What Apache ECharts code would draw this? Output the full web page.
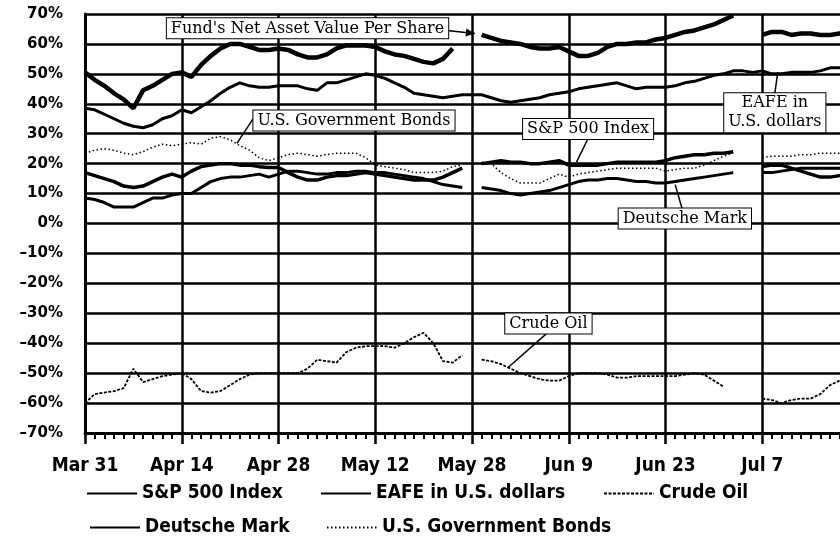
<!DOCTYPE html>
<html><head><meta charset="utf-8">
<script src="https://cdn.jsdelivr.net/npm/echarts@6/dist/echarts.min.js"></script>
<style>html,body{margin:0;padding:0;background:#fff}#c{width:840px;height:559px}</style>
</head><body><div id="c"></div>
<script>
// x: business-day index from Mar 31; ticks every 10 days
const tickLabels = ['Mar 31','Apr 14','Apr 28','May 12','May 28','Jun 9','Jun 23','Jul 7'];

const fundNAV = [50.5,48,46,43.5,41.5,38.5,44.5,46,48,50, 50.5,49,53,56,58.5,60,60,59,58,58,
  58.5,58,56.5,55.5,55.5,56.5,58.5,59.5,59.5,59.5, 59,57.5,56.5,56,55,54,53.5,55,58.5,null,
  null,63,62,61,60.5,60,59,58.5,58.5,59, 57.5,56,56,57,59,60,60,60.5,60.5,61.5,
  62,63,64,64.5,65.5,66.5,68,69.5,null,null, 63,64,64,63,63.5,63.5,63,63,63.5,64];

const sp500 = [17,16,15,14,12.5,12,12.5,14,15.5,16.5, 15.5,17.5,19,19.5,20,20,19.5,19.5,19,18.7,
  18.7,17,15.5,14.5,14.5,15.5,16,16,16.5,17, 16.5,16,15.5,15,14.5,14.5,14.5,15.5,17,18.5,
  null,20,20.5,21,20.5,20.5,20,20,20.5,21, 19.5,19.5,19.5,19.5,20,20.5,20.5,20.5,20.5,20.5,
  21,22,22.5,23,23,23.5,23.5,24,null,null, 19,19.5,19.5,18.5,17.5,16.5,15.5,15.5,16,16.5];

const eafe = [38.5,38,36.5,35,33.5,32.5,32,33,35,36, 38,37,39,41,43.5,45.5,47,46,45.5,45.5,
  46,46,46,45,44.5,47,47,48,49,50, 49.5,48.5,47,45.5,43.5,43,42.5,42,42.5,43,
  43,43,42,41,40.5,41,41.5,42,43,43.5, 44,45,45.5,46,46.5,47,46,45,45.5,45.5,
  45.5,46,47,47.5,48.5,49.5,50,51,51,50.5, 51,50,50,50.5,50.5,50.5,51,52,52,52.5];

const crudeOil = [-60,-57,-56.5,-56,-55,-48.5,-53,-52,-51,-50.5, -50,-52,-56,-56.5,-56,-54,-52,-50.5,-50,-50,
  -50,-50,-50,-48.5,-45.5,-46,-46.5,-43,-41.5,-41, -41,-41,-41.5,-40,-38,-36.5,-40,-46,-46.5,-44,
  null,-45.5,-46,-47,-48.5,-50,-51,-52,-52.5,-52.5, -51,-50,-50,-50,-50.5,-51.5,-51.5,-51,-51,-51,
  -51,-51,-50.5,-50,-50.5,-52.5,-54.5,null,null,null, -58.5,-59,-60,-59,-58.5,-58.5,-57,-54,-52.5,-53.5];

const deutscheMark = [8.5,8,7,5.5,5.5,5.5,7,8.5,8.5,9.5, 10,10,12,14,15,15.5,15.5,16,16.5,15.5,
  16.5,17.5,17.5,17,16.5,16.5,17,17,17.5,17.5, 17,17,16.5,16,15.5,15,14,13,12.5,12,
  null,12,11.5,11,10,9.5,10,10.5,11,12, 13,14,14.5,14.5,15,15,14.5,14,14,13.5,
  13.5,14,14.5,15,15.5,16,16.5,17,null,null, 17,17,17.5,18,18.5,18.5,18.5,18.5,18.5,18.5];

const govBonds = [23.5,24.5,25,24.5,23.5,23,24,25.5,26.5,26, 26.5,27,26.5,28.5,29,28,26,24.5,22,21,
  22,23,23.5,23,22.5,23,23.5,23.5,23.5,22, 19.5,19,18.5,18,17,17,17,17.5,19,19.5,
  null,20.5,20,17,15,13.5,13.5,13.5,15,16.5, 15.5,16.5,17,17.5,18,18.5,18.5,18.5,18.5,18.5,
  17.5,18,18.5,18.5,19.5,21,22.5,23.5,null,null, 22,22.5,22.5,22.5,23,23,23.5,23.5,23.5,23.5];

const pairs = arr => arr.map((v, i) => [i, v]);

const legendFont = {fontFamily:"'Liberation Sans Narrow','DejaVu Sans Condensed',sans-serif", fontWeight:'bold', fontSize:19, color:'#000'};
const annoFont = "16px 'DejaVu Serif', serif";

const chart = echarts.init(document.getElementById('c'), null, {renderer:'canvas'});

function legendAt(name, left, top) {
  return {data:[name], left:left, top:top, itemWidth:50, itemHeight:14, textStyle:legendFont,
    selectedMode:false, padding:0, itemStyle:{opacity:0}};
}

chart.setOption({
  animation:false,
  backgroundColor:'#fff',
  color:['#000'],
  grid:{left:85, top:14, width:774, height:419, containLabel:false, outerBoundsMode:'none'},
  xAxis:{type:'value', min:0, max:80, interval:10,
    axisLine:{onZero:false, lineStyle:{color:'#000', width:3}},
    axisTick:{length:11, lineStyle:{color:'#000', width:2.5}},
    minorTick:{show:true, splitNumber:10, length:6, lineStyle:{color:'#000', width:2}},
    splitLine:{show:true, lineStyle:{color:'#000', width:2.5}},
    axisLabel:{formatter:v => tickLabels[Math.round(v/10)] || '', margin:24, ...legendFont}},
  yAxis:{type:'value', min:-70, max:70, interval:10,
    axisLine:{show:true, onZero:false, lineStyle:{color:'#000', width:3}},
    axisTick:{show:false},
    splitLine:{show:true, lineStyle:{color:'#000', width:2.5}},
    axisLabel:{formatter:v => (v < 0 ? '\u2013' + (-v) : v) + '%', margin:22,
      fontFamily:"'DejaVu Sans',sans-serif", fontWeight:'bold', fontSize:15, color:'#000'}},
  legend:[
    legendAt('S&P 500 Index', 86, 484),
    legendAt('EAFE in U.S. dollars', 320, 484),
    legendAt('Crude Oil', 603, 484),
    legendAt('Deutsche Mark', 89, 518),
    legendAt('U.S. Government Bonds', 326, 518)
  ],
  series:[
    {name:"Fund's Net Asset Value Per Share", type:'line', data:pairs(fundNAV), symbol:'none',
      itemStyle:{color:'#000'}, lineStyle:{color:'#000', width:4.5}, z:5},
    {name:'EAFE in U.S. dollars', type:'line', data:pairs(eafe), symbol:'none',
      itemStyle:{color:'#000'}, lineStyle:{color:'#000', width:3}, z:4},
    {name:'U.S. Government Bonds', type:'line', data:pairs(govBonds), symbol:'none',
      itemStyle:{color:'#000'}, lineStyle:{color:'#000', width:1.5, type:[1.5,2.5]}, z:3},
    {name:'S&P 500 Index', type:'line', data:pairs(sp500), symbol:'none',
      itemStyle:{color:'#000'}, lineStyle:{color:'#000', width:3.5}, z:4},
    {name:'Deutsche Mark', type:'line', data:pairs(deutscheMark), symbol:'none',
      itemStyle:{color:'#000'}, lineStyle:{color:'#000', width:3}, z:4},
    {name:'Crude Oil', type:'line', data:pairs(crudeOil), symbol:'none',
      itemStyle:{color:'#000'}, lineStyle:{color:'#000', width:1.8, type:[3,1.5]}, z:3}
  ]
});

// annotation boxes with leader lines, positioned in data coordinates
const annotations = [
  {text:"Fund's Net Asset Value Per Share", box:[23.0,65.2], from:[37.4,64.5], to:[40.3,63.5], arrow:true},
  {text:'U.S. Government Bonds', box:[27.8,34.4], from:[17.4,35.1], to:[15.7,26.8]},
  {text:'S&P 500 Index', box:[52.0,31.6], from:[52.0,28.4], to:[50.8,20.5]},
  {text:'EAFE in\nU.S. dollars', box:[71.3,37.0], from:[71.3,43.5], to:[71.6,50.5]},
  {text:'Deutsche Mark', box:[62.0,1.7], from:[61.8,4.0], to:[61.0,13.0]},
  {text:'Crude Oil', box:[47.9,-33.4], from:[47.7,-36.8], to:[43.7,-48.2]}
];
const px = p => chart.convertToPixel({gridIndex:0}, p);
const graphics = [];
annotations.forEach(a => {
  const f = px(a.from), t = px(a.to), b = px(a.box);
  graphics.push({type:'line', z:100, shape:{x1:f[0], y1:f[1], x2:t[0], y2:t[1]}, style:{stroke:'#000', lineWidth:1.5}});
  if (a.arrow) {
    const ang = Math.atan2(t[1]-f[1], t[0]-f[0]);
    const L = 9, W = 4;
    const bx = t[0] - L*Math.cos(ang), by = t[1] - L*Math.sin(ang);
    graphics.push({type:'polygon', z:100, shape:{points:[[t[0],t[1]],[bx - W*Math.sin(ang), by + W*Math.cos(ang)],[bx + W*Math.sin(ang), by - W*Math.cos(ang)]]}, style:{fill:'#000'}});
  }
  graphics.push({type:'text', z:101, x:b[0], y:b[1], style:{text:a.text, font:annoFont, fill:'#000', align:'center', verticalAlign:'middle',
    backgroundColor:'#fff', borderColor:'#000', borderWidth:1, padding:[1,4,0,4], lineHeight:19}});
});
chart.setOption({graphic:graphics});
</script>
</body></html>
